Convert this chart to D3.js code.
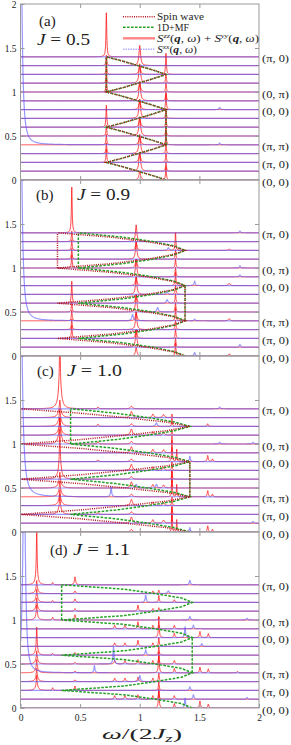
<!DOCTYPE html>
<html><head><meta charset="utf-8">
<script src="https://cdn.jsdelivr.net/npm/d3@7"></script>
<style>
body{margin:0;background:#fff}
svg{display:block}
text{font-family:"Liberation Serif","DejaVu Serif",serif;fill:#222}
</style>
</head><body>
<svg id="chart" width="291" height="745"></svg>
<script>
// ---------------- data ----------------
const levelCount = 15;                       // q points, baseline offset 0.1 each
const qLevels = [1.4, 1.0, 0.8, 0.4, 0.2, 0.0];
const qLabels = ["(π, 0)", "(0, π)", "(0, 0)", "(π, π)", "(π, 0)", "(0, 0)"];
const panelTags = ["(a)", "(b)", "(c)", "(d)"];
const jValues = ["0.5", "0.9", "1.0", "1.1"];
const xTicks = [0, 0.5, 1, 1.5, 2];
const yTicksFirst = [0, 0.5, 1, 1.5, 2];
const yTicksOther = [0, 0.5, 1, 1.5];
const dispLevels = d3.range(29).map(i => i * 0.05);

// dispersion (omega at offsets 0,0.05,...,1.4)
const swA = [1.22,1.11,0.985,0.86,0.72,0.86,0.985,1.11,1.22,1.11,0.985,0.86,0.72,0.86,0.985,1.11,1.22,1.11,0.985,0.86,0.72,0.86,0.985,1.11,1.22,1.11,0.985,0.86,0.72];
const mfA = [1.22,1.11,0.985,0.86,0.72,0.86,0.985,1.11,1.22,1.11,0.985,0.86,0.72,0.86,0.985,1.11,1.22,1.11,0.985,0.86,0.72,0.86,0.985,1.11,1.22,1.11,0.985,0.86,0.72];
const swB = [1.38,1.27,1.06,0.76,0.31,0.76,1.06,1.27,1.38,1.27,1.06,0.76,0.31,0.76,1.06,1.27,1.38,1.27,1.06,0.76,0.31,0.76,1.06,1.27,1.38,1.27,1.06,0.76,0.31];
const mfB = [1.38,1.29,1.11,0.86,0.485,0.86,1.11,1.29,1.38,1.29,1.11,0.86,0.485,0.86,1.11,1.29,1.38,1.29,1.11,0.86,0.485,0.86,1.11,1.29,1.38,1.29,1.11,0.86,0.485];
const swC = [1.42,1.22,0.88,0.5,0,0.5,0.88,1.22,1.42,1.22,0.88,0.5,0,0.5,0.88,1.22,1.42,1.22,0.88,0.5,0,0.5,0.88,1.22,1.42,1.22,0.88,0.5,0];
const mfC = [1.42,1.29,1.07,0.8,0.42,0.8,1.07,1.29,1.42,1.29,1.07,0.8,0.42,0.8,1.07,1.29,1.42,1.29,1.07,0.8,0.42,0.8,1.07,1.29,1.42,1.29,1.07,0.8,0.42];
const mfD = [1.44,1.35,1.13,0.87,0.345,0.87,1.13,1.35,1.44,1.35,1.13,0.87,0.345,0.87,1.13,1.35,1.44,1.35,1.13,0.87,0.345,0.87,1.13,1.35,1.44,1.35,1.13,0.87,0.345];
// flat branches [omega, from offset, to offset]
const swVA = [[0.72,1.0,1.4],[1.22,0.4,0.8]];
const mfVA = [[0.72,1.0,1.4],[1.22,0.4,0.8]];
const swVB = [[0.31,1.0,1.4],[1.38,0.4,0.8]];
const mfVB = [[0.485,1.0,1.4],[1.38,0.4,0.8]];
const swVC = [[0.0,1.0,1.4],[1.42,0.4,0.8]];
const mfVC = [[0.42,1.0,1.4],[1.42,0.4,0.8]];
const mfVD = [[0.345,1.0,1.4],[1.44,0.4,0.8]];

// S^zz+S^yy peaks: [omega, width, heights at the 15 q points]
const redA = [
  [0.72, 0.004, [0,0,0.15,0.12,0.12,0.12,0.25,0,0,0,0.15,0.12,0.12,0.12,0.5]],
  [1.0, 0.008, [0.1,0.22,0.1,0.22,0.1,0.22,0.1,0.22,0.1,0.22,0.1,0.22,0.1,0.23,0]],
  [1.22, 0.004, [0.15,0.11,0.11,0.11,0.15,0.11,0.11,0.11,0.18,0.11,0.11,0.11,0.24,0,0]]
];
const redB = [
  [0.43, 0.004, [0,0,0.15,0.12,0.12,0.12,0.25,0,0,0,0.15,0.12,0.12,0.12,0.52]],
  [0.97, 0.007, [0.1,0.2,0.1,0.2,0.1,0.2,0.1,0.2,0.1,0.2,0.1,0.2,0.1,0.19,0]],
  [1.30, 0.004, [0.15,0.11,0.11,0.11,0.15,0.11,0.11,0.11,0.15,0.11,0.11,0.11,0.2,0,0]],
  [1.75, 0.008, [0.025,0,0,0,0.025,0,0,0,0.025,0,0,0,0.015,0,0]]
];
const redC = [
  [0.33, 0.004, [0,0,0.15,0.1,0.1,0.1,0.42,0,0,0,0.15,0.1,0.1,0.1,0.62]],
  [0.33, 0.016, [0,0,0.08,0.08,0.08,0.08,0.15,0,0,0,0.15,0.1,0.1,0.1,0.25]],
  [0.65, 0.006, [0,0,0.02,0,0,0,0,0,0.02,0,0.025,0,0.025,0,0.02]],
  [0.93, 0.01, [0.03,0.07,0.03,0.07,0.03,0.07,0.03,0.07,0.03,0.07,0.03,0.07,0.03,0.07,0.03]],
  [1.11, 0.008, [0,0.04,0,0.04,0,0.04,0,0.04,0,0.04,0,0.04,0,0.04,0]],
  [1.20, 0.008, [0,0.035,0,0.035,0,0.035,0,0.035,0,0.035,0,0.035,0,0.035,0]],
  [1.27, 0.003, [0.28,0.1,0.1,0.1,0.3,0.1,0.1,0.1,0.3,0.06,0.04,0.06,0.1,0.04,0]],
  [1.31, 0.003, [0.14,0,0,0,0.14,0,0,0,0.14,0,0,0,0,0,0]],
  [1.57, 0.005, [0.07,0,0,0,0.07,0,0,0,0.07,0,0,0,0.03,0,0]],
  [1.61, 0.005, [0.03,0,0,0,0.03,0,0,0,0.03,0,0,0,0,0,0]]
];
const redD = [
  [0.136, 0.004, [0,0,0.12,0.1,0.1,0.1,0.27,0,0,0,0.12,0.1,0.1,0.1,0.54]],
  [0.136, 0.014, [0,0,0.05,0.05,0.05,0.05,0.05,0,0,0,0.05,0.05,0.05,0.05,0.07]],
  [0.27, 0.005, [0,0,0.03,0,0,0,0.02,0,0,0,0.03,0,0.02,0,0.025]],
  [0.457, 0.006, [0,0,0.05,0.02,0.02,0.02,0.03,0,0,0,0.06,0.03,0.04,0.03,0.09]],
  [0.79, 0.006, [0,0.04,0,0.04,0,0.04,0,0.04,0,0.04,0,0,0,0,0]],
  [0.876, 0.006, [0,0.04,0,0.04,0,0.04,0,0.04,0,0.04,0,0,0,0,0]],
  [0.985, 0.005, [0,0.05,0,0.05,0,0.05,0,0.07,0,0.08,0,0.07,0,0,0]],
  [1.11, 0.005, [0,0.04,0,0.04,0,0.04,0,0.04,0,0.04,0,0.03,0,0.03,0]],
  [1.16, 0.004, [0.22,0.1,0.1,0.1,0.24,0.1,0.1,0.1,0.23,0.04,0.04,0.04,0.08,0.04,0]],
  [1.29, 0.005, [0.05,0.04,0,0,0.05,0.04,0,0,0.05,0.04,0,0,0.03,0,0]],
  [1.505, 0.005, [0.08,0,0,0,0.065,0,0,0,0.07,0,0,0,0,0,0]],
  [1.575, 0.005, [0.045,0,0,0,0.045,0,0,0,0.045,0,0,0,0,0,0]],
  [1.82, 0.006, [0,0,0,0,0.015,0,0,0,0,0,0,0,0,0,0]]
];
// S^xx peaks: [omega, width, q index, height]
const blueA = [[0,0.012,4,3.3],[1.67,0.006,4,0.02],[1.67,0.006,8,0.025]];
const blueB = [[0,0.013,4,3.0],[0.94,0.008,4,0.07],[1.15,0.008,5,0.05],[1.23,0.008,6,0.04],[1.23,0.008,7,0.03],[1.24,0.008,12,0.03],
  [1.46,0.006,0,0.04],[1.46,0.006,8,0.05],[1.46,0.006,4,0.02],[1.84,0.006,14,0.02],[1.84,0.006,10,0.025],[1.84,0.006,1,0.03],[1.84,0.006,9,0.02]];
const blueC = [[0,0.015,4,3.0],[0.76,0.005,4,0.11],[0.97,0.008,5,0.04],[1.14,0.008,5,0.04],[1.14,0.008,12,0.04],
  [1.42,0.005,0,0.05],[1.42,0.005,8,0.06],[1.67,0.006,14,0.02],[1.67,0.006,10,0.02],[1.95,0.006,10,0.02],[1.95,0.006,1,0.02]];
const blueD = [[0.03,0.012,4,2.5],[0.62,0.005,4,0.08],[0.78,0.005,5,0.19],[1.0,0.006,3,0.07],[1.05,0.006,12,0.08],[1.05,0.006,6,0.06],
  [1.24,0.008,13,0.03],[1.38,0.005,8,0.12],[1.38,0.005,0,0.11],[1.42,0.006,14,0.05],[1.42,0.006,10,0.04],[1.42,0.006,2,0.04],
  [1.45,0.006,9,0.04],[1.45,0.006,1,0.05],[1.52,0.006,7,0.03],[1.9,0.006,10,0.02],[1.9,0.006,1,0.02]];

const panels = [
  {sw: swA, mf: mfA, swV: swVA, mfV: mfVA, red: redA, blue: blueA},
  {sw: swB, mf: mfB, swV: swVB, mfV: mfVB, red: redB, blue: blueB},
  {sw: swC, mf: mfC, swV: swVC, mfV: mfVC, red: redC, blue: blueC},
  {sw: null, mf: mfD, swV: [], mfV: mfVD, red: redD, blue: blueD}
];

// ---------------- layout ----------------
const svg = d3.select("#chart");
const left = 20.5, right = 259, panelH = 176, tops = [4, 180, 356, 532];
const x = d3.scaleLinear().domain([0, 2]).range([left, right]);
const RED = "#ff0d0d", BLUE = "#5252ff", SWC = "#b0141c", MFC = "#24a024", FRAME = "#9a9a9a";

function peaksForLevel(p, i) {
  const out = [];
  p.red.forEach(c => { if (c[2][i] > 0) out.push({c: c[0], g: c[1], h: c[2][i]}); });
  return out;
}
function bluePeaksForLevel(p, i) {
  return p.blue.filter(b => b[2] === i).map(b => ({c: b[0], g: b[1], h: b[3]}));
}
const offs = [-40,-20,-12,-8,-5,-3.5,-2.5,-1.8,-1.3,-1,-0.7,-0.45,-0.25,-0.1,0,0.1,0.25,0.45,0.7,1,1.3,1.8,2.5,3.5,5,8,12,20,40];
function spectrum(peaks) {
  const grid = d3.range(0, 2.0001, 0.004);
  peaks.forEach(p => offs.forEach(o => { const w = p.c + o * p.g; if (w >= 0 && w <= 2) grid.push(w); }));
  grid.sort(d3.ascending);
  return grid.map(w => [w, d3.sum(peaks, p => p.h * p.g * p.g / ((w - p.c) ** 2 + p.g * p.g))]);
}

panels.forEach((p, k) => {
  const top = tops[k];
  const y = d3.scaleLinear().domain([0, 2]).range([top + panelH, top]);
  const g = svg.append("g");
  const cid = "clip" + k;
  svg.append("clipPath").attr("id", cid).append("rect")
    .attr("x", left).attr("y", top).attr("width", right - left).attr("height", panelH);
  const inner = g.append("g").attr("clip-path", `url(#${cid})`);

  // S^zz + S^yy
  d3.range(levelCount).forEach(i => {
    const lv = i / 10;
    const data = spectrum(peaksForLevel(p, i));
    inner.append("path").datum(data)
      .attr("d", d3.line().x(d => x(d[0])).y(d => y(lv + d[1])))
      .attr("fill", "none").attr("stroke", RED).attr("stroke-opacity", 0.75).attr("stroke-width", 1.0);
  });
  // S^xx
  d3.range(levelCount).forEach(i => {
    const lv = i / 10;
    const data = spectrum(bluePeaksForLevel(p, i));
    inner.append("path").datum(data)
      .attr("d", d3.line().x(d => x(d[0])).y(d => y(lv + d[1])))
      .attr("fill", "none").attr("stroke", BLUE).attr("stroke-opacity", 0.6).attr("stroke-width", 1.2);
  });

  // dispersion curves
  const dl = d3.line().x(d => x(d[0])).y(d => y(d[1]));
  function drawDisp(arr, vert, color, dash, w) {
    if (arr) inner.append("path").datum(arr.map((v, j) => [v, dispLevels[j]]))
      .attr("d", dl).attr("fill", "none").attr("stroke", color).attr("stroke-width", w).attr("stroke-dasharray", dash);
    vert.forEach(v => inner.append("path").datum([[v[0], v[1]], [v[0], v[2]]])
      .attr("d", dl).attr("fill", "none").attr("stroke", color).attr("stroke-width", w).attr("stroke-dasharray", dash));
  }
  drawDisp(p.mf, p.mfV, MFC, "2.6,1.4", 1.5);
  drawDisp(p.sw, p.swV, SWC, "1,1.2", 1.5);

  // frame
  g.append("rect").attr("x", left).attr("y", top).attr("width", right - left).attr("height", panelH)
    .attr("fill", "none").attr("stroke", FRAME).attr("stroke-width", 1);

  // axes
  const yl = d3.axisLeft(y).tickValues(k === 0 ? yTicksFirst : yTicksOther).tickSizeInner(-4).tickSizeOuter(0).tickPadding(4).tickFormat(d => String(d));
  const ya = g.append("g").attr("transform", `translate(${left},0)`).call(yl);
  const yr = d3.axisRight(y).tickValues([0.5, 1, 1.5]).tickSizeInner(-4).tickSizeOuter(0).tickFormat("");
  const yb = g.append("g").attr("transform", `translate(${right},0)`).call(yr);
  const xt = d3.axisTop(x).tickValues([0.5, 1, 1.5]).tickSizeInner(-4).tickSizeOuter(0).tickFormat("");
  const xa = g.append("g").attr("transform", `translate(0,${top})`).call(xt);
  const xb = d3.axisBottom(x).tickValues(k === 3 ? xTicks : [0.5, 1, 1.5]).tickSizeInner(-4).tickSizeOuter(0).tickPadding(6)
    .tickFormat(k === 3 ? (d => String(d)) : "");
  const xbb = g.append("g").attr("transform", `translate(0,${top + panelH})`).call(xb);
  [ya, yb, xa, xbb].forEach(a => {
    a.select(".domain").remove();
    a.selectAll(".tick line").attr("stroke", FRAME);
    a.selectAll(".tick text").style("font-family", '"Liberation Serif", serif').style("font-size", "9.5px").attr("fill", "#333");
  });

  // q labels at right
  qLevels.forEach((lv, j) => {
    g.append("text").attr("x", 262).attr("y", y(lv) + 3).attr("dominant-baseline", "middle")
      .style("font-size", "11px").attr("textLength", 27).attr("lengthAdjust", "spacingAndGlyphs").text(qLabels[j]);
  });
});

// panel tags
const tagPos = [[39, 26, 37, 44.5, 53], [36, 199.5, 77, 199.5, 53], [37, 375.5, 67, 375.5, 55], [50, 555, 73, 555, 57]];
panelTags.forEach((t, k) => {
  const pz = tagPos[k];
  svg.append("text").attr("x", pz[0]).attr("y", pz[1]).style("font-size", "15px").text(t);
  const jt = svg.append("text").attr("x", pz[2]).attr("y", pz[3]).style("font-size", "16px")
    .attr("textLength", pz[4]).attr("lengthAdjust", "spacingAndGlyphs");
  jt.append("tspan").style("font-style", "italic").text("J");
  jt.append("tspan").text(" = " + jValues[k]);
});

// legend
const lg = svg.append("g");
const lx0 = 123, lx1 = 155, tx = 157;
const rows = [16.7, 27.3, 38.3, 49.3];
lg.append("line").attr("x1", lx0).attr("x2", lx1).attr("y1", rows[0]).attr("y2", rows[0]).attr("stroke", SWC).attr("stroke-width", 1.5).attr("stroke-dasharray", "1,1.2");
lg.append("line").attr("x1", lx0).attr("x2", lx1).attr("y1", rows[1]).attr("y2", rows[1]).attr("stroke", MFC).attr("stroke-width", 1.5).attr("stroke-dasharray", "2.6,1.4");
lg.append("line").attr("x1", lx0).attr("x2", lx1).attr("y1", rows[2]).attr("y2", rows[2]).attr("stroke", RED).attr("stroke-opacity", 0.5).attr("stroke-width", 2.4);
lg.append("line").attr("x1", lx0).attr("x2", lx1).attr("y1", rows[3]).attr("y2", rows[3]).attr("stroke", BLUE).attr("stroke-opacity", 0.45).attr("stroke-width", 1.6).attr("stroke-dasharray", "1.5,1");
lg.append("text").attr("x", tx).attr("y", 20).style("font-size", "10.5px").attr("textLength", 47).attr("lengthAdjust", "spacingAndGlyphs").text("Spin wave");
lg.append("text").attr("x", tx).attr("y", 30.7).style("font-size", "10.5px").attr("textLength", 32).attr("lengthAdjust", "spacingAndGlyphs").text("1D+MF");
function sText(yy, parts, len) {
  const el = lg.append("text").attr("x", tx).attr("y", yy).style("font-size", "10px");
  if (len) el.attr("textLength", len).attr("lengthAdjust", "spacingAndGlyphs");
  parts.forEach(q => {
    const s = el.append("tspan").text(q.t);
    if (q.i) s.style("font-style", "italic");
    if (q.b) s.style("font-weight", "bold");
    if (q.sup) s.style("font-size", "6.5px").attr("dy", -4);
    if (q.down) s.attr("dy", 4);
  });
}
const sqw = (sup) => [{t: "S", i: 1}, {t: sup, i: 1, sup: 1}, {t: "(", down: 1}, {t: "q", i: 1, b: 1}, {t: ", "}, {t: "ω", i: 1}, {t: ")"}];
sText(41.5, [...sqw("zz"), {t: " + "}, ...sqw("yy")], 102);
sText(52.5, sqw("xx"), 40);

// x-axis title
const xtitle = svg.append("text").attr("x", 102).attr("y", 739).style("font-size", "15px")
  .attr("textLength", 80).attr("lengthAdjust", "spacingAndGlyphs");
xtitle.append("tspan").style("font-style", "italic").text("ω");
xtitle.append("tspan").text("/(2");
xtitle.append("tspan").style("font-style", "italic").text("J");
xtitle.append("tspan").style("font-style", "italic").style("font-size", "10px").attr("dy", 3).text("z");
xtitle.append("tspan").attr("dy", -3).text(")");
</script>
</body></html>
